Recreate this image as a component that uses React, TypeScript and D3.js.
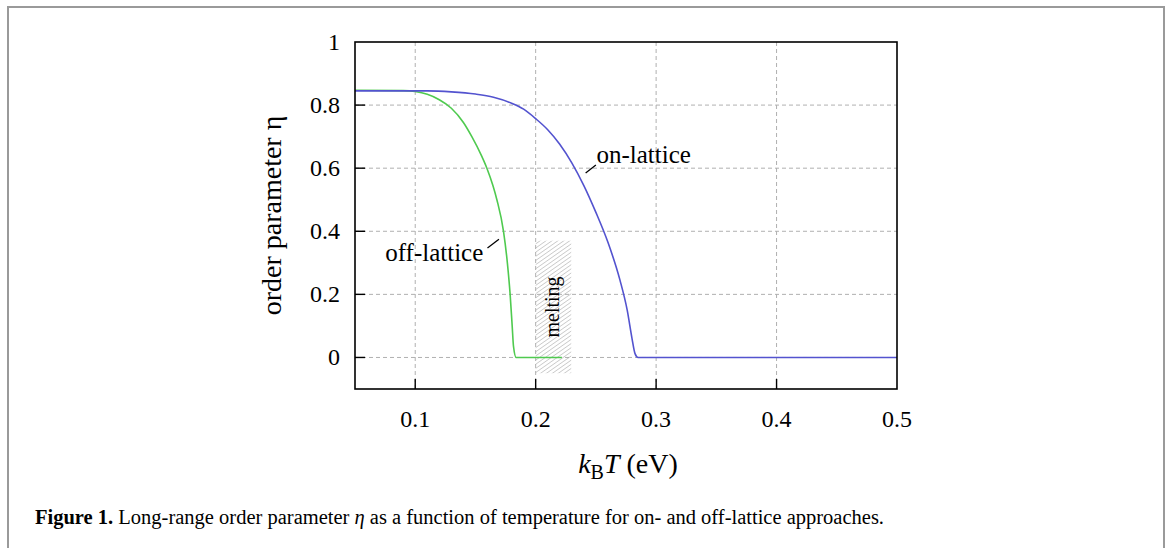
import React from 'react';
import * as d3 from 'd3';

// temperature kT (eV) and order parameter eta
const onLatticeT = [0.05, 0.11, 0.13, 0.15, 0.165, 0.18, 0.19, 0.20, 0.21, 0.22, 0.23, 0.24, 0.25, 0.26, 0.27, 0.276, 0.28, 0.2825, 0.285, 0.5];
const onLatticeEta = [0.845, 0.845, 0.842, 0.835, 0.825, 0.806, 0.787, 0.757, 0.722, 0.676, 0.617, 0.545, 0.460, 0.365, 0.245, 0.150, 0.060, 0.012, 0.0, 0.0];

const offLatticeT = [0.05, 0.09, 0.10, 0.11, 0.12, 0.13, 0.14, 0.147, 0.155, 0.1595, 0.1645, 0.1678, 0.1733, 0.1765, 0.1788, 0.1805, 0.1816, 0.1838, 0.2217];
const offLatticeEta = [0.847, 0.846, 0.843, 0.834, 0.817, 0.790, 0.745, 0.70, 0.64, 0.60, 0.545, 0.50, 0.40, 0.30, 0.20, 0.10, 0.035, 0.0, 0.0];

const xTicks = [0.1, 0.2, 0.3, 0.4, 0.5];
const yTicks = [0, 0.2, 0.4, 0.6, 0.8, 1];

// melting band (kT range, eta range)
const meltingT = [0.2, 0.2295];
const meltingEta = [-0.05, 0.37];

const W = 1170;
const H = 548;
const margin = {left: 355, right: 897, top: 42, bottom: 389};

const serif = '"Liberation Serif", "Times New Roman", serif';

export default function App() {
	const x = d3.scaleLinear().domain([0.05, 0.5]).range([margin.left, margin.right]);
	const y = d3.scaleLinear().domain([-0.1, 1]).range([margin.bottom, margin.top]);

	const line = d3.line<[number, number]>()
		.x(d => x(d[0]))
		.y(d => y(d[1]))
		.curve(d3.curveMonotoneX);

	const onPts = onLatticeT.map((t, i) => [t, onLatticeEta[i]] as [number, number]);
	const offPts = offLatticeT.map((t, i) => [t, offLatticeEta[i]] as [number, number]);

	const plotW = margin.right - margin.left;
	const plotH = margin.bottom - margin.top;

	return (
		<svg width={W} height={H} style={{position: 'absolute', left: 0, top: 0}} fontFamily={serif}>
			<defs>
				<pattern id="hatch" width="3.4" height="4" patternUnits="userSpaceOnUse" patternTransform="rotate(55)">
					<line x1="0" y1="0" x2="0" y2="4" stroke="#9a9a9a" strokeWidth="0.9"/>
				</pattern>
			</defs>
			<rect x={0} y={0} width={W} height={H} fill="#fff"/>
			{/* figure frame */}
			<rect x={8} y={7} width={1156} height={H + 10} fill="none" stroke="#9a9a9a" strokeWidth={2}/>

			{/* grid */}
			<g className="grid" stroke="#b0b0b0" strokeWidth={1} strokeDasharray="4,3">
				{xTicks.filter(t => t < 0.5).map(t => (
					<line key={t} x1={x(t)} x2={x(t)} y1={margin.top} y2={margin.bottom}/>
				))}
				{yTicks.filter(t => t < 1).map(t => (
					<line key={t} x1={margin.left} x2={margin.right} y1={y(t)} y2={y(t)}/>
				))}
			</g>

			{/* melting band */}
			<rect x={x(meltingT[0])} y={y(meltingEta[1])} width={x(meltingT[1]) - x(meltingT[0])}
				height={y(meltingEta[0]) - y(meltingEta[1])} fill="url(#hatch)"/>
			<text transform={`translate(${x((meltingT[0] + meltingT[1]) / 2) + 6},${y(0.16)}) rotate(-90)`}
				textAnchor="middle" fontSize={20}>melting</text>

			{/* curves */}
			<path d={line(offPts) || ''} fill="none" stroke="#4fca4f" strokeWidth={1.6}/>
			<path d={line(onPts) || ''} fill="none" stroke="#5353cf" strokeWidth={1.6}/>

			{/* annotations */}
			<line x1={x(0.2415)} y1={y(0.585)} x2={x(0.25)} y2={y(0.61)} stroke="#000" strokeWidth={1.3}/>
			<text x={x(0.2505)} y={y(0.618)} fontSize={25}>on-lattice</text>
			<line x1={x(0.1695)} y1={y(0.375)} x2={x(0.16)} y2={y(0.347)} stroke="#000" strokeWidth={1.3}/>
			<text x={x(0.1)} y={y(0.305)} fontSize={25} textAnchor="start" dx={-30}>off-lattice</text>

			{/* axes box */}
			<rect x={margin.left} y={margin.top} width={plotW} height={plotH} fill="none" stroke="#000" strokeWidth={1.6}/>
			<g className="ticks" stroke="#000" strokeWidth={1.4}>
				{xTicks.filter(t => t < 0.5).map(t => (
					<line key={t} x1={x(t)} x2={x(t)} y1={margin.bottom} y2={margin.bottom - 10}/>
				))}
				{yTicks.filter(t => t < 1).map(t => (
					<line key={t} x1={margin.left} x2={margin.left + 10} y1={y(t)} y2={y(t)}/>
				))}
			</g>

			{/* tick labels */}
			<g fontSize={24} fill="#000">
				{xTicks.map(t => (
					<text key={t} x={x(t)} y={427} textAnchor="middle">{t}</text>
				))}
				{yTicks.map(t => (
					<text key={t} x={340} y={y(t) + 8} textAnchor="end">{t}</text>
				))}
			</g>

			{/* axis titles */}
			<text x={(margin.left + margin.right) / 2 + 2} y={473} textAnchor="middle" fontSize={28}>
				<tspan fontStyle="italic">k</tspan>
				<tspan fontSize={20} dy={6}>B</tspan>
				<tspan fontStyle="italic" dy={-6}>T</tspan>
				<tspan> (eV)</tspan>
			</text>
			<text transform={`translate(281,${(margin.top + margin.bottom) / 2}) rotate(-90)`} textAnchor="middle" fontSize={28}>
				order parameter  η
			</text>

			{/* caption */}
			<text x={35} y={524} fontSize={20.5}>
				<tspan fontWeight="bold">Figure 1.</tspan>
				<tspan> Long-range order parameter </tspan>
				<tspan fontStyle="italic">η</tspan>
				<tspan> as a function of temperature for on- and off-lattice approaches.</tspan>
			</text>
		</svg>
	);
}
